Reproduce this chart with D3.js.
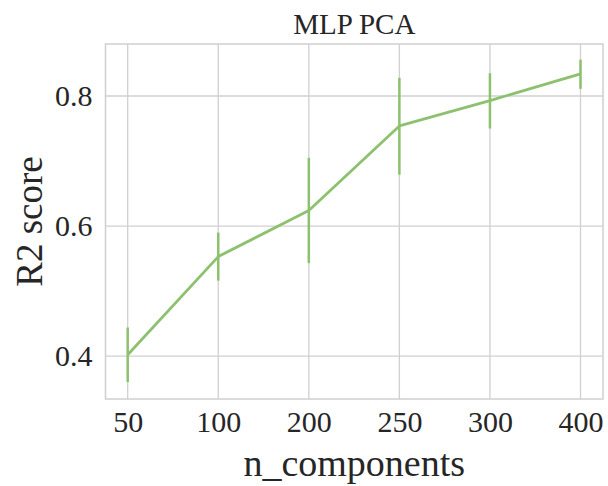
<!DOCTYPE html>
<html>
<head>
<meta charset="utf-8">
<script src="https://cdn.jsdelivr.net/npm/d3@7"></script>
<style>
  body { margin: 0; background: #fff; }
  text { font-family: "Liberation Serif", "Times New Roman", serif; fill: #262626; }
</style>
</head>
<body>
<svg width="608" height="486"></svg>
<script>
// n_components on the x axis (categorical)
const components = ["50", "100", "200", "250", "300", "400"];
// mean R2 score and error bar ends
const r2Mean = [0.402, 0.553, 0.624, 0.754, 0.793, 0.834];
const r2Low = [0.360, 0.516, 0.543, 0.679, 0.750, 0.811];
const r2High = [0.444, 0.590, 0.705, 0.828, 0.835, 0.856];
const yTicks = [0.4, 0.6, 0.8];

const svg = d3.select("svg");
const box = { left: 105.5, right: 603, top: 44, bottom: 399 };
const green = "#8dc16f";

// point scale with padding so first/last points sit inside the frame
const x = d3.scalePoint().domain(components).range([127.7, 580.5]);
const y = d3.scaleLinear().domain([0.334, 0.880]).range([box.bottom, box.top]);

// grid
svg.append("g").selectAll("line").data(yTicks).enter().append("line")
  .attr("x1", box.left).attr("x2", box.right)
  .attr("y1", d => y(d)).attr("y2", d => y(d))
  .attr("stroke", "#d0d0d0").attr("stroke-width", 1.3);
svg.append("g").selectAll("line").data(components).enter().append("line")
  .attr("x1", d => x(d)).attr("x2", d => x(d))
  .attr("y1", box.top).attr("y2", box.bottom)
  .attr("stroke", "#d0d0d0").attr("stroke-width", 1.3);

// frame
svg.append("rect")
  .attr("x", box.left).attr("y", box.top)
  .attr("width", box.right - box.left).attr("height", box.bottom - box.top)
  .attr("fill", "none").attr("stroke", "#cfcfcf").attr("stroke-width", 1.5);

// axes (labels only, seaborn whitegrid has no tick marks)
const xAxis = d3.axisBottom(x).tickSize(0).tickPadding(12);
const gx = svg.append("g").attr("transform", `translate(0,${box.bottom})`).call(xAxis);
gx.select(".domain").remove();
gx.selectAll("text").style("font-size", "30px").attr("fill", "#262626");

const yAxis = d3.axisLeft(y).tickValues(yTicks).tickFormat(d3.format(".1f")).tickSize(0).tickPadding(13);
const gy = svg.append("g").attr("transform", `translate(${box.left},0)`).call(yAxis);
gy.select(".domain").remove();
gy.selectAll("text").style("font-size", "30px").attr("fill", "#262626");

// error bars
const data = components.map((c, i) => ({ c, m: r2Mean[i], lo: r2Low[i], hi: r2High[i] }));
svg.append("g").selectAll("line").data(data).enter().append("line")
  .attr("x1", d => x(d.c)).attr("x2", d => x(d.c))
  .attr("y1", d => y(d.lo)).attr("y2", d => y(d.hi))
  .attr("stroke", green).attr("stroke-width", 2.5);

// mean line
const line = d3.line().x(d => x(d.c)).y(d => y(d.m));
svg.append("path").datum(data)
  .attr("d", line)
  .attr("fill", "none").attr("stroke", green).attr("stroke-width", 2.8)
  .attr("stroke-linejoin", "round");

// titles
svg.append("text").attr("x", (box.left + box.right) / 2).attr("y", 34)
  .attr("text-anchor", "middle").style("font-size", "29px").text("MLP PCA");
svg.append("text").attr("x", (box.left + box.right) / 2).attr("y", 476)
  .attr("text-anchor", "middle").style("font-size", "38px").text("n_components");
svg.append("text").attr("transform", `translate(42,${(box.top + box.bottom) / 2}) rotate(-90)`)
  .attr("text-anchor", "middle").style("font-size", "37px").text("R2 score");
</script>
</body>
</html>
